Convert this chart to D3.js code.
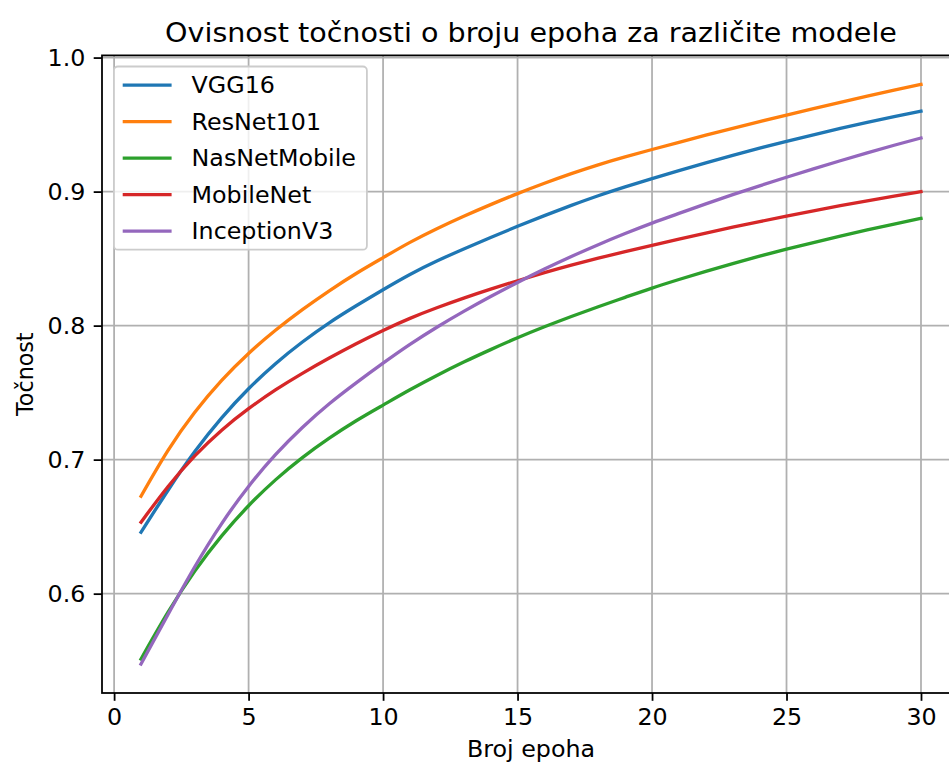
<!DOCTYPE html>
<html>
<head>
<meta charset="utf-8">
<script src="https://cdn.jsdelivr.net/npm/d3@7"></script>
<style>
  html, body { margin: 0; padding: 0; background: #fff; }
  svg text { font-family: "DejaVu Sans", sans-serif; fill: #000; }
</style>
</head>
<body>
<svg id="chart" width="949" height="766"></svg>
<script>
// Accuracy per training epoch for each model
const epochs = d3.range(1, 31);
const vgg16 = [0.6458, 0.6770, 0.7060, 0.7312, 0.7529, 0.7716, 0.7878, 0.8021, 0.8148, 0.8268,
               0.8382, 0.8482, 0.8572, 0.8658, 0.8741, 0.8821, 0.8897, 0.8969, 0.9035, 0.9097,
               0.9156, 0.9214, 0.9270, 0.9324, 0.9375, 0.9424, 0.9471, 0.9516, 0.9559, 0.9600];
const resnet101 = [0.6727, 0.7067, 0.7353, 0.7591, 0.7792, 0.7965, 0.8119, 0.8260, 0.8389, 0.8507,
                   0.8621, 0.8723, 0.8816, 0.8903, 0.8985, 0.9062, 0.9134, 0.9200, 0.9259, 0.9314,
                   0.9368, 0.9421, 0.9472, 0.9522, 0.9571, 0.9619, 0.9666, 0.9712, 0.9757, 0.9800];
const nasnetMobile = [0.5512, 0.5860, 0.6168, 0.6431, 0.6656, 0.6849, 0.7015, 0.7160, 0.7290, 0.7407,
                      0.7521, 0.7628, 0.7728, 0.7821, 0.7909, 0.7991, 0.8068, 0.8141, 0.8211, 0.8280,
                      0.8344, 0.8405, 0.8463, 0.8518, 0.8570, 0.8620, 0.8668, 0.8714, 0.8758, 0.8800];
const mobileNet = [0.6533, 0.6798, 0.7028, 0.7220, 0.7380, 0.7520, 0.7644, 0.7758, 0.7865, 0.7964,
                   0.8054, 0.8133, 0.8205, 0.8272, 0.8335, 0.8395, 0.8451, 0.8503, 0.8552, 0.8599,
                   0.8645, 0.8690, 0.8734, 0.8776, 0.8817, 0.8857, 0.8895, 0.8931, 0.8966, 0.9000];
const inceptionV3 = [0.5475, 0.5843, 0.6201, 0.6523, 0.6800, 0.7037, 0.7240, 0.7417, 0.7573, 0.7720,
                     0.7860, 0.7988, 0.8106, 0.8217, 0.8322, 0.8422, 0.8516, 0.8604, 0.8687, 0.8765,
                     0.8837, 0.8908, 0.8977, 0.9043, 0.9107, 0.9169, 0.9230, 0.9289, 0.9346, 0.9400];

const modelNames = ["VGG16", "ResNet101", "NasNetMobile", "MobileNet", "InceptionV3"];
const modelValues = [vgg16, resnet101, nasnetMobile, mobileNet, inceptionV3];
const modelColors = ["#1f77b4", "#ff7f0e", "#2ca02c", "#d62728", "#9467bd"];

const xTicks = [0, 5, 10, 15, 20, 25, 30];
const yTicks = [0.6, 0.7, 0.8, 0.9, 1.0];

const titleText = "Ovisnost točnosti o broju epoha za različite modele";
const xLabelText = "Broj epoha";
const yLabelText = "Točnost";

// Layout
const plot = { left: 102, right: 960, top: 55.4, bottom: 693 };
const sx = 1.07;            // horizontal glyph stretch
const tickFont = 22.2, titleFont = 26.7;

// Axis limits with a 5% margin around the data
const allVals = modelValues.flat();
const xMin = d3.min(epochs), xMax = d3.max(epochs);
const yMin = d3.min(allVals), yMax = d3.max(allVals);
const xPad = (xMax - xMin) * 0.05, yPad = (yMax - yMin) * 0.05;

const x = d3.scaleLinear().domain([xMin - xPad, xMax + xPad]).range([plot.left, plot.right]);
const y = d3.scaleLinear().domain([yMin - yPad, yMax + yPad]).range([plot.bottom, plot.top]);

const svg = d3.select("#chart");

svg.append("defs").append("clipPath").attr("id", "plotClip")
  .append("rect")
  .attr("x", plot.left).attr("y", plot.top)
  .attr("width", plot.right - plot.left).attr("height", plot.bottom - plot.top);

// Grid
const grid = svg.append("g");
grid.selectAll("line.vx").data(xTicks).join("line")
  .attr("x1", d => x(d)).attr("x2", d => x(d))
  .attr("y1", plot.top).attr("y2", plot.bottom)
  .attr("stroke", "#b0b0b0").attr("stroke-width", 1.78);
grid.selectAll("line.hy").data(yTicks).join("line")
  .attr("x1", plot.left).attr("x2", plot.right)
  .attr("y1", d => y(d)).attr("y2", d => y(d))
  .attr("stroke", "#b0b0b0").attr("stroke-width", 1.78);

// Series
const line = d3.line()
  .x((d, i) => x(epochs[i]))
  .y(d => y(d))
  .curve(d3.curveNatural);
svg.append("g").attr("clip-path", "url(#plotClip)")
  .selectAll("path").data(modelValues).join("path")
  .attr("d", d => line(d))
  .attr("fill", "none")
  .attr("stroke", (d, i) => modelColors[i])
  .attr("stroke-width", 3.33)
  .attr("stroke-linejoin", "round")
  .attr("stroke-linecap", "square");

// Spines
svg.append("rect")
  .attr("x", plot.left).attr("y", plot.top)
  .attr("width", plot.right - plot.left).attr("height", plot.bottom - plot.top)
  .attr("fill", "none").attr("stroke", "#000").attr("stroke-width", 1.78);

// X axis
const xAxis = d3.axisBottom(x).tickValues(xTicks).tickSize(7.8).tickPadding(0).tickFormat(d3.format("d"));
const gx = svg.append("g").attr("transform", `translate(0,${plot.bottom})`).call(xAxis);
gx.select(".domain").remove();
gx.selectAll(".tick line").attr("stroke", "#000").attr("stroke-width", 1.78);
gx.selectAll(".tick text")
  .attr("y", 0).attr("dy", null)
  .attr("transform", `translate(0,${7.8 + 7.8 + 16.6}) scale(${sx},1)`)
  .style("font-size", tickFont + "px").attr("fill", "#000")
  .attr("font-family", "DejaVu Sans");

// Y axis
const yAxis = d3.axisLeft(y).tickValues(yTicks).tickSize(8.3).tickPadding(0).tickFormat(d3.format(".1f"));
const gy = svg.append("g").attr("transform", `translate(${plot.left},0)`).call(yAxis);
gy.select(".domain").remove();
gy.selectAll(".tick line").attr("stroke", "#000").attr("stroke-width", 1.78);
gy.selectAll(".tick text")
  .attr("x", 0).attr("dy", null).attr("y", 0)
  .attr("transform", `translate(${-8.3 - 8.3},8.1) scale(${sx},1)`)
  .style("font-size", tickFont + "px").attr("fill", "#000")
  .attr("font-family", "DejaVu Sans");

// Title and axis labels
const midX = (plot.left + plot.right) / 2;
svg.append("text")
  .attr("transform", `translate(${midX},42) scale(${sx},1)`)
  .attr("text-anchor", "middle")
  .style("font-size", titleFont + "px")
  .text(titleText);

svg.append("text")
  .attr("transform", `translate(${midX},757) scale(${sx},1)`)
  .attr("text-anchor", "middle")
  .style("font-size", tickFont + "px")
  .text(xLabelText);

svg.append("text")
  .attr("transform", `translate(33,${(plot.top + plot.bottom) / 2}) rotate(-90) scale(1,${sx})`)
  .attr("text-anchor", "middle")
  .style("font-size", tickFont + "px")
  .text(yLabelText);

// Legend
const legend = svg.append("g");
const lgLeft = plot.left + 11.9, lgTop = plot.top + 11.1;
const lgW = 253, rowH = 36.5, lgH = 18.6 * 2 + rowH * (modelNames.length - 1);
legend.append("rect")
  .attr("x", lgLeft).attr("y", lgTop).attr("width", lgW).attr("height", lgH)
  .attr("rx", 4).attr("ry", 4)
  .attr("fill", "#fff").attr("fill-opacity", 0.8)
  .attr("stroke", "#cccccc").attr("stroke-width", 1.78);
const rows = legend.selectAll("g.row").data(modelNames).join("g")
  .attr("transform", (d, i) => `translate(${lgLeft},${lgTop + 18.6 + i * rowH})`);
rows.append("line")
  .attr("x1", 8.8).attr("x2", 57.7).attr("y1", 0).attr("y2", 0)
  .attr("stroke", (d, i) => modelColors[i]).attr("stroke-width", 3.33);
rows.append("text")
  .attr("transform", `translate(77.7,8.1) scale(${sx},1)`)
  .style("font-size", tickFont + "px")
  .text(d => d);
</script>
</body>
</html>
